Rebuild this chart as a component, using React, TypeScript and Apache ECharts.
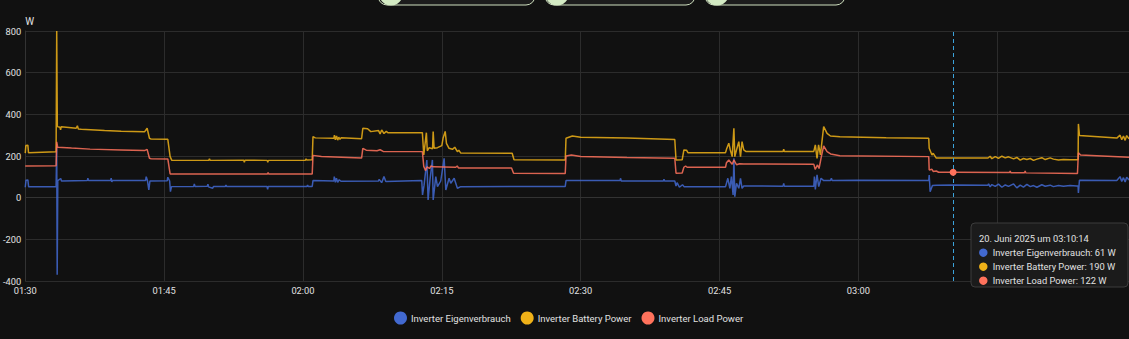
import React, { useEffect, useRef } from "react";
import * as echarts from "echarts";

// ---------- data (time "HH:MM:SS", value W) ----------
const eigenverbrauch: [string, number][] = [
  ["01:30:00", 50], ["01:30:05", 84], ["01:30:17", 85], ["01:30:22", 52], ["01:33:20", 52],
  ["01:33:24", 245], ["01:33:27", -370], ["01:33:31", 82], ["01:33:50", 92], ["01:33:55", 80],
  ["01:36:42", 82], ["01:36:46", 93], ["01:36:50", 82], ["01:39:13", 82], ["01:39:17", 94],
  ["01:39:21", 76], ["01:39:25", 82], ["01:43:00", 82], ["01:43:04", 101], ["01:43:12", 82],
  ["01:43:21", 37], ["01:43:28", 80], ["01:45:20", 81], ["01:45:24", 98], ["01:45:36", 80],
  ["01:45:41", 29], ["01:45:48", 53], ["01:48:12", 54], ["01:48:16", 66], ["01:48:20", 54],
  ["01:49:40", 55], ["01:49:44", 65], ["01:49:48", 52], ["01:50:15", 45], ["01:50:20", 54],
  ["01:51:37", 54], ["01:51:41", 61], ["01:51:45", 54], ["01:56:07", 54], ["01:56:11", 40],
  ["01:56:15", 54], ["02:00:26", 54], ["02:00:30", 60], ["02:00:34", 54], ["02:01:00", 54],
  ["02:01:05", 82], ["02:03:20", 80], ["02:03:23", 101], ["02:03:30", 74], ["02:03:37", 93],
  ["02:03:45", 74], ["02:03:55", 86], ["02:04:06", 79], ["02:08:10", 80], ["02:08:14", 88],
  ["02:08:30", 72], ["02:08:45", 101], ["02:08:57", 78], ["02:12:50", 82], ["02:12:55", 13],
  ["02:13:05", 60], ["02:13:23", 181], ["02:13:31", -11], ["02:13:44", 90], ["02:13:59", 181],
  ["02:14:04", -11], ["02:14:21", 101], ["02:14:32", 53], ["02:14:53", 80], ["02:15:15", 189],
  ["02:15:26", 37], ["02:15:47", 93], ["02:15:58", 69], ["02:16:20", 93], ["02:16:41", 45],
  ["02:17:03", 53], ["02:28:20", 54], ["02:28:25", 82], ["02:34:15", 82], ["02:34:19", 93],
  ["02:34:23", 80], ["02:38:56", 80], ["02:39:00", 88], ["02:39:04", 80], ["02:40:10", 80],
  ["02:40:18", 56], ["02:40:25", 72], ["02:40:40", 50], ["02:41:00", 62], ["02:41:10", 53],
  ["02:45:39", 53], ["02:45:54", 93], ["02:46:07", 45], ["02:46:17", 101], ["02:46:28", 13],
  ["02:46:33", 189], ["02:46:39", 5], ["02:46:50", 69], ["02:47:05", 45], ["02:47:16", 93],
  ["02:47:26", 45], ["02:47:37", 56], ["02:51:52", 55], ["02:51:56", 69], ["02:52:00", 55],
  ["02:55:11", 55], ["02:55:15", 101], ["02:55:21", 40], ["02:55:32", 109], ["02:55:43", 53],
  ["02:55:58", 93], ["02:56:15", 82], ["02:56:59", 82], ["02:57:05", 93], ["02:57:10", 82],
  ["03:00:00", 84], ["03:07:36", 82], ["03:07:39", 109], ["03:07:45", 29], ["03:08:00", 58],
  ["03:08:25", 60], ["03:10:14", 61], ["03:14:00", 60], ["03:14:04", 66], ["03:14:14", 52],
  ["03:14:25", 63], ["03:14:47", 54], ["03:15:08", 65], ["03:15:30", 50], ["03:15:52", 61],
  ["03:16:13", 54], ["03:16:46", 66], ["03:17:07", 47], ["03:17:29", 60], ["03:17:50", 51],
  ["03:18:12", 64], ["03:18:34", 53], ["03:18:55", 58], ["03:19:17", 50], ["03:19:49", 62],
  ["03:20:11", 55], ["03:20:43", 60], ["03:21:04", 53], ["03:21:37", 58], ["03:22:09", 55],
  ["03:22:52", 58], ["03:23:35", 56], ["03:23:44", 56], ["03:23:46", 23], ["03:23:53", 84],
  ["03:27:55", 82], ["03:28:16", 101], ["03:28:27", 78], ["03:28:38", 96], ["03:28:49", 75],
  ["03:28:59", 98], ["03:29:14", 85],
];

const batteryPower: [string, number][] = [
  ["01:30:00", 214], ["01:30:04", 250], ["01:30:17", 252], ["01:30:21", 216], ["01:33:20", 220],
  ["01:33:24", 800], ["01:33:28", 341], ["01:33:45", 338], ["01:33:49", 325], ["01:33:53", 340],
  ["01:35:30", 333], ["01:35:38", 345], ["01:35:44", 330], ["01:36:03", 328], ["01:38:34", 322],
  ["01:40:22", 319], ["01:42:53", 316], ["01:43:10", 333], ["01:43:25", 285], ["01:43:36", 281],
  ["01:45:24", 280], ["01:45:39", 197], ["01:45:50", 179], ["01:49:50", 180], ["01:49:54", 186],
  ["01:49:58", 179], ["01:53:36", 180], ["01:53:40", 170], ["01:53:44", 180], ["01:56:08", 179],
  ["01:56:12", 170], ["01:56:16", 179], ["02:00:16", 180], ["02:00:20", 186], ["02:00:24", 181],
  ["02:01:00", 182], ["02:01:05", 293], ["02:01:20", 287], ["02:03:20", 285], ["02:03:24", 300],
  ["02:03:30", 278], ["02:03:38", 296], ["02:03:45", 276], ["02:03:52", 290], ["02:04:00", 280],
  ["02:04:08", 288], ["02:06:20", 283], ["02:06:28", 333], ["02:06:59", 331], ["02:07:20", 317],
  ["02:08:10", 322], ["02:08:20", 306], ["02:08:30", 325], ["02:08:45", 308], ["02:09:00", 318],
  ["02:09:10", 312], ["02:12:54", 312], ["02:13:03", 205], ["02:13:20", 312], ["02:13:26", 225],
  ["02:13:38", 240], ["02:14:00", 235], ["02:14:04", 317], ["02:14:10", 237], ["02:14:32", 240],
  ["02:15:00", 250], ["02:15:08", 285], ["02:15:22", 318], ["02:15:30", 261], ["02:15:47", 237],
  ["02:16:09", 232], ["02:16:24", 242], ["02:16:41", 221], ["02:16:50", 228], ["02:17:03", 214],
  ["02:22:36", 213], ["02:22:48", 182], ["02:28:20", 181], ["02:28:25", 285], ["02:29:06", 296],
  ["02:30:00", 290], ["02:35:00", 286], ["02:40:10", 279], ["02:40:18", 181], ["02:40:58", 182],
  ["02:41:09", 229], ["02:41:26", 228], ["02:41:35", 216], ["02:45:39", 216], ["02:45:45", 232],
  ["02:46:00", 261], ["02:46:10", 229], ["02:46:22", 197], ["02:46:33", 333], ["02:46:39", 197],
  ["02:46:50", 229], ["02:47:05", 269], ["02:47:16", 197], ["02:47:26", 269], ["02:47:37", 229],
  ["02:47:50", 222], ["02:51:52", 222], ["02:51:56", 232], ["02:52:00", 222], ["02:55:11", 222],
  ["02:55:21", 253], ["02:55:32", 189], ["02:55:42", 253], ["02:55:54", 205], ["02:56:15", 341],
  ["02:56:37", 309], ["02:56:59", 296], ["02:58:00", 292], ["03:03:00", 288], ["03:07:36", 285],
  ["03:07:39", 237], ["03:07:57", 205], ["03:08:05", 213], ["03:08:25", 190], ["03:10:14", 190],
  ["03:14:00", 190], ["03:14:04", 193], ["03:14:14", 199], ["03:14:25", 187], ["03:14:47", 197],
  ["03:15:08", 189], ["03:15:30", 199], ["03:15:52", 191], ["03:16:13", 196], ["03:16:46", 186],
  ["03:17:07", 193], ["03:17:29", 180], ["03:17:50", 188], ["03:18:12", 183], ["03:18:34", 188],
  ["03:18:55", 179], ["03:19:17", 185], ["03:19:49", 192], ["03:20:11", 183], ["03:20:43", 191],
  ["03:21:04", 185], ["03:21:37", 181], ["03:22:09", 183], ["03:22:52", 182], ["03:23:35", 182],
  ["03:23:44", 183], ["03:23:46", 354], ["03:23:53", 298], ["03:27:55", 286], ["03:28:16", 300],
  ["03:28:27", 278], ["03:28:38", 296], ["03:28:49", 275], ["03:28:59", 298], ["03:29:14", 282],
];

const loadPower: [string, number][] = [
  ["01:30:00", 152], ["01:33:20", 153], ["01:33:24", 268], ["01:33:30", 242], ["01:35:00", 238],
  ["01:37:00", 233], ["01:40:22", 229], ["01:42:53", 226], ["01:43:10", 232], ["01:43:25", 189],
  ["01:43:36", 187], ["01:45:24", 186], ["01:45:39", 114], ["01:56:10", 114], ["01:56:14", 120],
  ["01:56:18", 114], ["02:01:00", 114], ["02:01:05", 203], ["02:02:00", 198], ["02:06:20", 190],
  ["02:06:28", 237], ["02:06:50", 228], ["02:08:00", 225], ["02:08:20", 230], ["02:08:40", 222],
  ["02:12:54", 221], ["02:13:03", 150], ["02:13:15", 130], ["02:13:25", 148], ["02:13:40", 140],
  ["02:13:50", 152], ["02:14:05", 148], ["02:16:30", 146], ["02:16:40", 152], ["02:16:48", 143],
  ["02:22:32", 142], ["02:22:45", 117], ["02:28:20", 116], ["02:28:25", 200], ["02:29:00", 205],
  ["02:30:00", 198], ["02:35:00", 193], ["02:40:10", 189], ["02:40:18", 117], ["02:40:58", 118],
  ["02:41:09", 146], ["02:41:20", 152], ["02:41:30", 146], ["02:45:39", 146], ["02:45:45", 168],
  ["02:46:00", 181], ["02:46:22", 160], ["02:46:33", 181], ["02:46:50", 158], ["02:47:10", 163],
  ["02:47:37", 162], ["02:55:11", 161], ["02:55:20", 136], ["02:55:35", 157], ["02:55:45", 140],
  ["02:56:00", 197], ["02:56:15", 248], ["02:56:37", 221], ["02:57:00", 210], ["02:58:00", 201],
  ["03:07:36", 197], ["03:07:39", 133], ["03:07:57", 136], ["03:08:05", 126], ["03:08:25", 128],
  ["03:08:40", 122], ["03:10:14", 122], ["03:16:20", 121], ["03:16:24", 128], ["03:16:28", 120],
  ["03:17:57", 120], ["03:18:01", 128], ["03:18:05", 119], ["03:23:40", 116], ["03:23:46", 216],
  ["03:24:00", 205], ["03:29:14", 194],
];

const seriesNames = ["Inverter Eigenverbrauch", "Inverter Battery Power", "Inverter Load Power"];
const seriesColors = ["#4269d0", "#efb118", "#ff725c"];

const xStart = "01:30:00";
const xEnd = "03:29:14";
const xTickLabels = ["01:30", "01:45", "02:00", "02:15", "02:30", "02:45", "03:00"];
const yMin = -400;
const yMax = 800;
const yStep = 200;
const unit = "W";

const hoverTime = "03:10:14";
const tooltipTitle = "20. Juni 2025 um 03:10:14";
const tooltipValues = [61, 190, 122];

// ---------- helpers ----------
const toSec = (t: string) => {
  const [h, m, s] = t.split(":").map(Number);
  return h * 3600 + m * 60 + s;
};
const baseSec = toSec(xStart);
const toMin = (t: string) => (toSec(t) - baseSec) / 60;
const fmtMin = (v: number) => {
  const total = Math.round(baseSec / 60 + v);
  const h = Math.floor(total / 60);
  const m = total % 60;
  return `${String(h).padStart(2, "0")}:${String(m).padStart(2, "0")}`;
};

const FONT = "Roboto, sans-serif";
const TXT = "#e1e1e1";
const FS = 9.3;

export default function App() {
  const ref = useRef<HTMLDivElement>(null);

  useEffect(() => {
    if (!ref.current) return;
    const chart = echarts.init(ref.current, null, { renderer: "svg" });
    const raw = [eigenverbrauch, batteryPower, loadPower];
    const hx = toMin(hoverTime);

    const series: any[] = raw.map((arr, i) => ({
      name: seriesNames[i],
      type: "line",
      data: arr.map(([t, v]) => [toMin(t), v]),
      showSymbol: false,
      symbol: "circle",
      lineStyle: { width: 1.5, color: seriesColors[i], opacity: 0.85 },
      itemStyle: { color: seriesColors[i] },
      silent: true,
      z: 2 + i,
    }));
    series[2].markPoint = {
      symbol: "circle",
      symbolSize: 7,
      data: [{ coord: [hx, tooltipValues[2]] }],
      itemStyle: { color: seriesColors[2] },
      label: { show: false },
      silent: true,
    };
    series[0].markLine = {
      symbol: ["none", "none"],
      silent: true,
      label: { show: false },
      lineStyle: { type: [4, 3], color: "#3ba3dc", width: 1, opacity: 1 },
      data: [{ xAxis: hx }],
    };

    const buttons = [
      { x: 378, w: 157, cx: 391 },
      { x: 545, w: 150, cx: 557 },
      { x: 705, w: 140, cx: 717 },
    ];
    const graphic: any[] = [];
    buttons.forEach((b) => {
      graphic.push({
        type: "rect",
        shape: { x: b.x, y: -22, width: b.w, height: 27, r: 9 },
        style: { fill: "#1c1c1c", stroke: "#cfe0bf", lineWidth: 1 },
        z: 10,
      });
      graphic.push({
        type: "circle",
        shape: { cx: b.cx, cy: -6.5, r: 12 },
        style: { fill: "#d3eac3" },
        z: 11,
      });
    });
    // tooltip overlay
    const TZ = 200;
    graphic.push({
      type: "rect",
      shape: { x: 971, y: 223, width: 157, height: 64, r: 4 },
      style: { fill: "#1b1b1b", stroke: "#3c3c3c", lineWidth: 1 },
      z: TZ,
    });
    graphic.push({
      type: "text",
      x: 979,
      y: 238.5,
      z: TZ + 1,
      style: { text: tooltipTitle, fill: TXT, font: `${FS}px ${FONT}`, verticalAlign: "middle" },
    });
    seriesNames.forEach((n, i) => {
      const cy = 252.7 + i * 14;
      graphic.push({
        type: "circle",
        z: TZ + 1,
        shape: { cx: 983.3, cy, r: 4.2 },
        style: { fill: seriesColors[i] },
      });
      graphic.push({
        type: "text",
        x: 992.7,
        y: cy,
        z: TZ + 1,
        style: {
          text: `${n}: ${tooltipValues[i]} ${unit}`,
          fill: TXT,
          font: `${FS}px ${FONT}`,
          verticalAlign: "middle",
        },
      });
    });

    chart.setOption({
      animation: false,
      backgroundColor: "#111111",
      textStyle: { fontFamily: FONT },
      grid: { left: 24, right: 0, top: 31, bottom: 58, containLabel: false },
      legend: {
        left: 394,
        top: 311.5,
        padding: 0,
        icon: "circle",
        itemWidth: 13,
        itemHeight: 13,
        itemGap: 10,
        textStyle: { color: TXT, fontSize: 9.5, fontFamily: FONT, padding: [0, 0, 0, -1] },
        data: seriesNames,
        selectedMode: false,
      },
      xAxis: {
        type: "value",
        min: 0,
        max: toMin(xEnd),
        interval: 15,
        axisLine: { show: true, lineStyle: { color: "#333333" } },
        axisTick: { show: false },
        splitLine: { show: true, lineStyle: { color: "#2c2c2c", width: 1 } },
        axisLabel: {
          color: TXT,
          fontSize: FS,
          fontFamily: FONT,
          margin: 5,
          showMaxLabel: false,
          formatter: (v: number) => {
            const s = fmtMin(v);
            return xTickLabels.includes(s) ? s : "";
          },
        },
      },
      yAxis: {
        type: "value",
        min: yMin,
        max: yMax,
        interval: yStep,
        name: unit,
        nameLocation: "end",
        nameGap: 1,
        nameTextStyle: { color: TXT, fontSize: 10, fontFamily: FONT, align: "left" },
        axisLine: { show: true, lineStyle: { color: "#333333" } },
        axisTick: { show: false },
        splitLine: { show: true, lineStyle: { color: "#2c2c2c", width: 1 } },
        axisLabel: { color: TXT, fontSize: FS, fontFamily: FONT, margin: 4 },
      },
      series,
      graphic,
    });

    return () => chart.dispose();
  }, []);

  return (
    <div
      ref={ref}
      style={{ position: "fixed", left: 0, top: 0, width: 1129, height: 339, background: "#111111" }}
    />
  );
}
